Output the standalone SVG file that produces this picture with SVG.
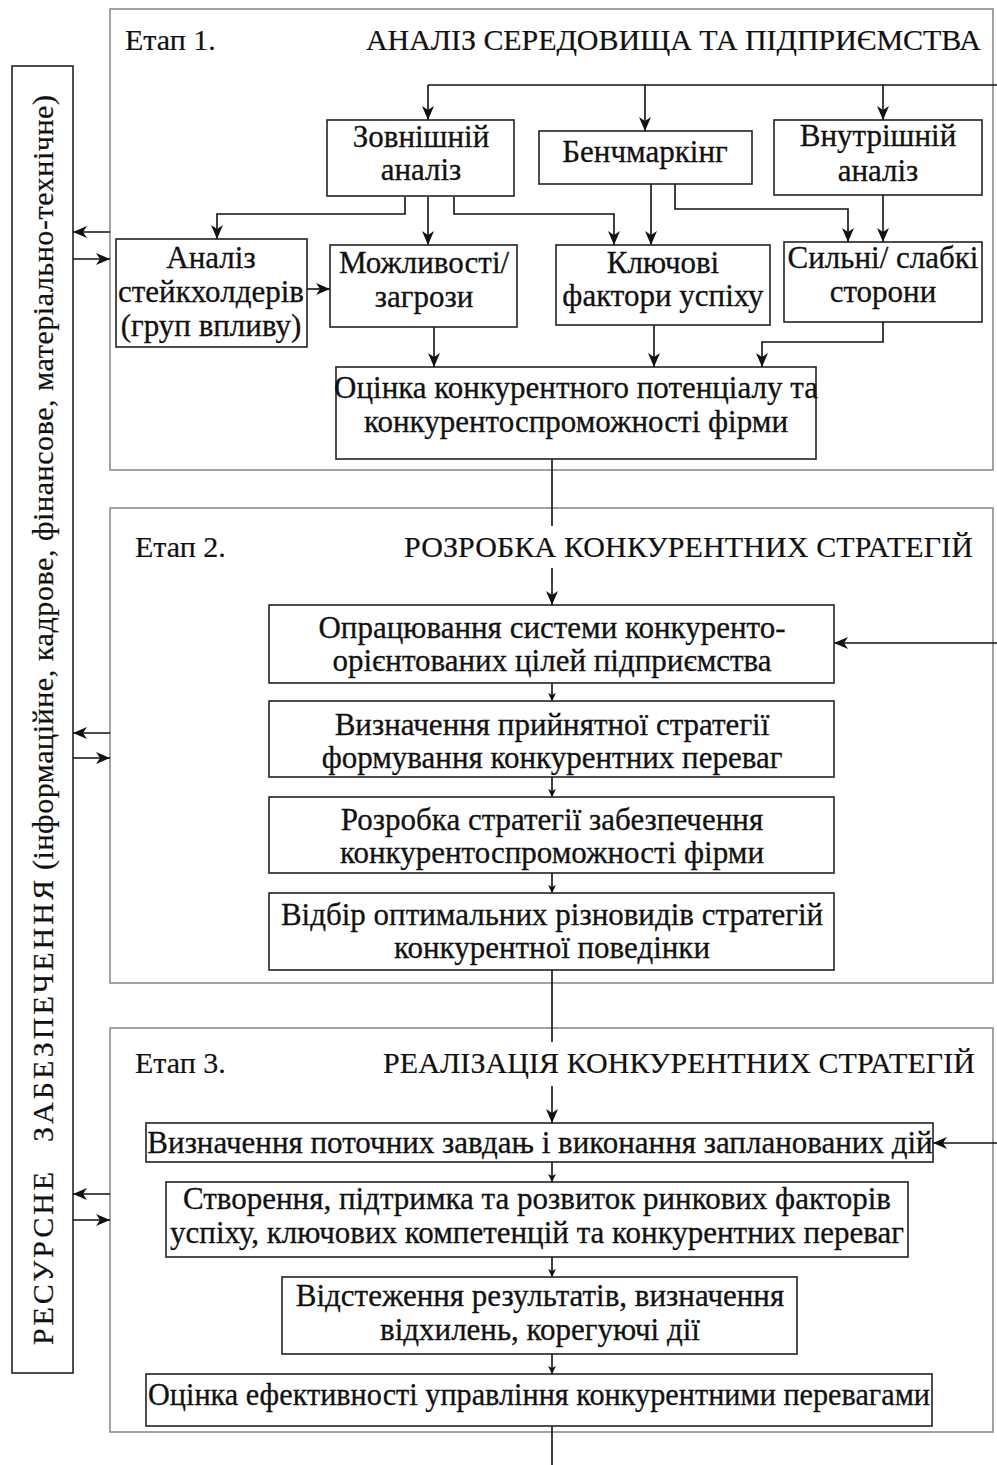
<svg xmlns="http://www.w3.org/2000/svg" width="997" height="1465" viewBox="0 0 997 1465">
<style>
.frame{fill:none;stroke:#8c8c8c;stroke-width:1.6}
.box{fill:#fff;stroke:#222;stroke-width:1.6}
.t{font-family:"Liberation Serif","Times New Roman",serif;font-size:31px;fill:#111;stroke:#111;stroke-width:0.3;text-anchor:middle}
.h{font-family:"Liberation Serif","Times New Roman",serif;font-size:30px;fill:#111;stroke:#111;stroke-width:0.2}
.c{fill:none;stroke:#111;stroke-width:1.6}
.a{marker-end:url(#ah)}
.s{marker-end:url(#sh)}
</style>
<defs>
<marker id="ah" markerUnits="userSpaceOnUse" markerWidth="14" markerHeight="12" viewBox="0 0 14 12" refX="14" refY="6" orient="auto">
<path d="M0,0 L14,6 L0,12 L4,6 z" fill="#111"/>
</marker>
<marker id="sh" markerUnits="userSpaceOnUse" markerWidth="8" markerHeight="8" viewBox="0 0 8 8" refX="8" refY="4" orient="auto">
<path d="M0,0 L8,4 L0,8 L2,4 z" fill="#111"/>
</marker>
</defs>

<g id="stage1">
<rect class="frame" x="110" y="9" width="883" height="461"/>
<text class="h" x="125" y="50">Етап 1.</text>
<text class="h" x="366" y="50" textLength="615">АНАЛІЗ СЕРЕДОВИЩА ТА ПІДПРИЄМСТВА</text>
</g>
<g id="stage2">
<rect class="frame" x="110" y="508" width="883" height="475"/>
<text class="h" x="135" y="557">Етап 2.</text>
<text class="h" x="404" y="557" textLength="569">РОЗРОБКА КОНКУРЕНТНИХ СТРАТЕГІЙ</text>
</g>
<g id="stage3">
<rect class="frame" x="110" y="1028" width="883" height="404"/>
<text class="h" x="135" y="1073">Етап 3.</text>
<text class="h" x="383" y="1073" textLength="592">РЕАЛІЗАЦІЯ КОНКУРЕНТНИХ СТРАТЕГІЙ</text>
</g>

<g id="resources">
<rect class="box" x="12" y="66" width="61" height="1307"/>
<text class="h" transform="rotate(-90)" y="53"><tspan x="-1345" textLength="173">РЕСУРСНЕ</tspan><tspan x="-1142" textLength="262">ЗАБЕЗПЕЧЕННЯ</tspan><tspan x="-870" textLength="775">(інформаційне, кадрове, фінансове, матеріально-технічне)</tspan></text>
</g>

<g id="connectors">
<path class="c" d="M997,85 H428"/>
<path class="c a" d="M428,85 V120"/>
<path class="c a" d="M645,85 V131"/>
<path class="c a" d="M883,85 V120"/>
<path class="c a" d="M405,197 V214 H217 V239"/>
<path class="c a" d="M428,197 V245"/>
<path class="c a" d="M454,197 V214 H614 V245"/>
<path class="c a" d="M651,184 V245"/>
<path class="c a" d="M675,184 V209 H848 V242"/>
<path class="c a" d="M883,195 V242"/>
<path class="c a" d="M307,289 H330"/>
<path class="c a" d="M434,327 V367"/>
<path class="c a" d="M654,325 V367"/>
<path class="c a" d="M883,322 V342 H762 V367"/>
<path class="c" d="M552,459 V526"/>
<path class="c a" d="M552,568 V605"/>
<path class="c a" d="M997,643 H834"/>
<path class="c s" d="M552,683 V701"/>
<path class="c s" d="M552,777 V797"/>
<path class="c s" d="M552,873 V893"/>
<path class="c" d="M552,970 V1042"/>
<path class="c a" d="M552,1086 V1123"/>
<path class="c a" d="M997,1143 H933"/>
<path class="c s" d="M552,1162 V1182"/>
<path class="c s" d="M552,1257 V1277"/>
<path class="c s" d="M552,1354 V1374"/>
<path class="c" d="M552,1426 V1465"/>
<path class="c a" d="M110,232 H73"/>
<path class="c a" d="M73,259 H110"/>
<path class="c a" d="M110,733 H73"/>
<path class="c a" d="M73,758 H110"/>
<path class="c a" d="M110,1194 H73"/>
<path class="c a" d="M73,1220 H110"/>
</g>

<g id="n-external">
<rect class="box" x="327" y="120" width="187" height="76"/>
<text class="t" x="421" y="147">Зовнішній</text>
<text class="t" x="421" y="180">аналіз</text>
</g>
<g id="n-bench">
<rect class="box" x="539" y="131" width="213" height="53"/>
<text class="t" x="645" y="162">Бенчмаркінг</text>
</g>
<g id="n-internal">
<rect class="box" x="774" y="120" width="208" height="75"/>
<text class="t" x="878" y="146">Внутрішній</text>
<text class="t" x="878" y="181">аналіз</text>
</g>
<g id="n-stake">
<rect class="box" x="116" y="239" width="191" height="108"/>
<text class="t" x="211" y="268">Аналіз</text>
<text class="t" x="211" y="302">стейкхолдерів</text>
<text class="t" x="211" y="336">(груп впливу)</text>
</g>
<g id="n-opp">
<rect class="box" x="330" y="245" width="187" height="82"/>
<text class="t" x="424" y="273">Можливості/</text>
<text class="t" x="424" y="307">загрози</text>
</g>
<g id="n-ksf">
<rect class="box" x="556" y="245" width="214" height="80"/>
<text class="t" x="663" y="273">Ключові</text>
<text class="t" x="663" y="306">фактори успіху</text>
</g>
<g id="n-sw">
<rect class="box" x="784" y="242" width="198" height="80"/>
<text class="t" x="883" y="268">Сильні/ слабкі</text>
<text class="t" x="883" y="302">сторони</text>
</g>
<g id="n-eval">
<rect class="box" x="336" y="367" width="480" height="92"/>
<text class="t" x="576" y="398">Оцінка конкурентного потенціалу та</text>
<text class="t" x="576" y="432">конкурентоспроможності фірми</text>
</g>

<g id="n-goals">
<rect class="box" x="269" y="605" width="565" height="78"/>
<text class="t" x="552" y="638">Опрацювання системи конкуренто-</text>
<text class="t" x="552" y="671">орієнтованих цілей підприємства</text>
</g>
<g id="n-define">
<rect class="box" x="269" y="701" width="565" height="76"/>
<text class="t" x="552" y="735">Визначення прийнятної стратегії</text>
<text class="t" x="552" y="768">формування конкурентних переваг</text>
</g>
<g id="n-develop">
<rect class="box" x="269" y="797" width="565" height="76"/>
<text class="t" x="552" y="830">Розробка стратегії забезпечення</text>
<text class="t" x="552" y="863">конкурентоспроможності фірми</text>
</g>
<g id="n-select">
<rect class="box" x="269" y="893" width="565" height="77"/>
<text class="t" x="552" y="925">Відбір оптимальних різновидів стратегій</text>
<text class="t" x="552" y="958">конкурентної поведінки</text>
</g>

<g id="n-tasks">
<rect class="box" x="146" y="1123" width="787" height="39"/>
<text class="t" x="540" y="1153">Визначення поточних завдањ і виконання запланованих дій</text>
</g>
<g id="n-create">
<rect class="box" x="166" y="1182" width="742" height="75"/>
<text class="t" x="537" y="1209">Створення, підтримка та розвиток ринкових факторів</text>
<text class="t" x="537" y="1243">успіху, ключових компетенцій та конкурентних переваг</text>
</g>
<g id="n-monitor">
<rect class="box" x="282" y="1277" width="515" height="77"/>
<text class="t" x="540" y="1306">Відстеження результатів, визначення</text>
<text class="t" x="540" y="1340">відхилень, корегуючі дії</text>
</g>
<g id="n-efficiency">
<rect class="box" x="146" y="1374" width="786" height="52"/>
<text class="t" x="539" y="1405" textLength="782" lengthAdjust="spacingAndGlyphs">Оцінка ефективності управління конкурентними перевагами</text>
</g>
</svg>
